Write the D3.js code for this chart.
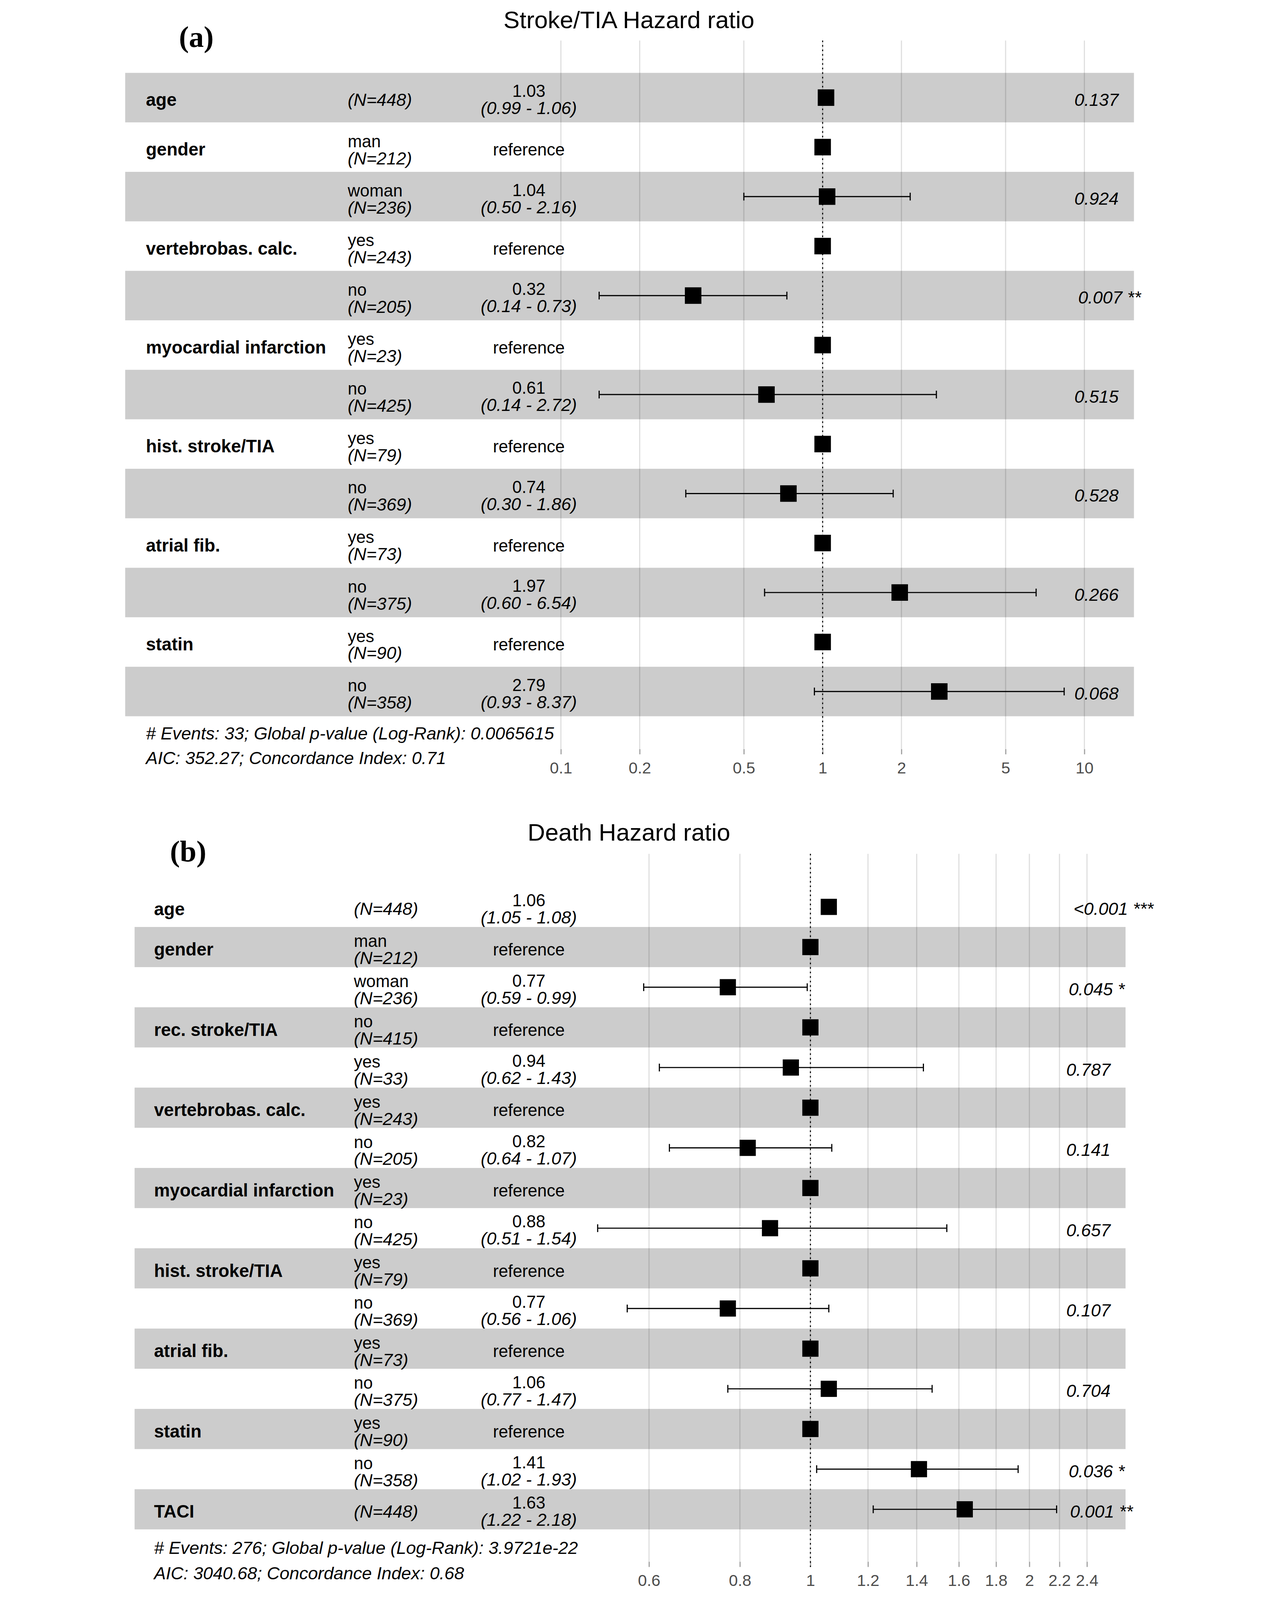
<!DOCTYPE html>
<html>
<head>
<meta charset="utf-8">
<script src="https://cdn.jsdelivr.net/npm/d3@7"></script>
<style>
  html, body { margin: 0; padding: 0; background: #fff; overflow: hidden; }
  svg { display: block; }
  text { font-family: "Liberation Sans", Arial, sans-serif; }
  text.tag { font-family: "Liberation Serif", "Times New Roman", serif; font-weight: bold; }
</style>
</head>
<body>
<svg id="chart" viewBox="0 0 3266 4940" preserveAspectRatio="xMidYMin meet"></svg>
<script>
// ---------------- DATA: panel (a) Stroke/TIA ----------------
const strokeVar   = ["age", "gender", "", "vertebrobas. calc.", "", "myocardial infarction", "", "hist. stroke/TIA", "", "atrial fib.", "", "statin", ""];
const strokeLevel = ["", "man", "woman", "yes", "no", "yes", "no", "yes", "no", "yes", "no", "yes", "no"];
const strokeN     = [448, 212, 236, 243, 205, 23, 425, 79, 369, 73, 375, 90, 358];
const strokeHR    = [1.03, null, 1.04, null, 0.32, null, 0.61, null, 0.74, null, 1.97, null, 2.79];
const strokeLo    = [0.99, null, 0.50, null, 0.14, null, 0.14, null, 0.30, null, 0.60, null, 0.93];
const strokeHi    = [1.06, null, 2.16, null, 0.73, null, 2.72, null, 1.86, null, 6.54, null, 8.37];
const strokeP     = ["0.137", "", "0.924", "", "0.007 **", "", "0.515", "", "0.528", "", "0.266", "", "0.068"];
const strokeTicks = [0.1, 0.2, 0.5, 1, 2, 5, 10];
const strokeNotes = ["# Events: 33; Global p-value (Log-Rank): 0.0065615", "AIC: 352.27; Concordance Index: 0.71"];

// ---------------- DATA: panel (b) Death ----------------
const deathVar   = ["age", "gender", "", "rec. stroke/TIA", "", "vertebrobas. calc.", "", "myocardial infarction", "", "hist. stroke/TIA", "", "atrial fib.", "", "statin", "", "TACI"];
const deathLevel = ["", "man", "woman", "no", "yes", "yes", "no", "yes", "no", "yes", "no", "yes", "no", "yes", "no", ""];
const deathN     = [448, 212, 236, 415, 33, 243, 205, 23, 425, 79, 369, 73, 375, 90, 358, 448];
const deathHR    = [1.06, null, 0.77, null, 0.94, null, 0.82, null, 0.88, null, 0.77, null, 1.06, null, 1.41, 1.63];
const deathLo    = [1.05, null, 0.59, null, 0.62, null, 0.64, null, 0.51, null, 0.56, null, 0.77, null, 1.02, 1.22];
const deathHi    = [1.08, null, 0.99, null, 1.43, null, 1.07, null, 1.54, null, 1.06, null, 1.47, null, 1.93, 2.18];
const deathP     = ["<0.001 ***", "", "0.045 *", "", "0.787", "", "0.141", "", "0.657", "", "0.107", "", "0.704", "", "0.036 *", "0.001 **"];
const deathTicks = [0.6, 0.8, 1, 1.2, 1.4, 1.6, 1.8, 2, 2.2, 2.4];
const deathNotes = ["# Events: 276; Global p-value (Log-Rank): 3.9721e-22", "AIC: 3040.68; Concordance Index: 0.68"];

// ---------------- DRAW ----------------
const W = 3266, H = 4940;
const vw = window.innerWidth || W, vh = window.innerHeight || H;
const k = Math.min(vw / W, vh / H, 1);
const svg = d3.select("#chart").attr("width", W * k).attr("height", H * k)
  .style("margin", "0 auto");
svg.append("rect").attr("width", W).attr("height", H).attr("fill", "#fff");

const FS = 52.5, FSI = 54.5, FSB = 55;

function drawPanel(cfg) {
  const g = svg.append("g");
  const n = cfg.vars.length;
  const x = d3.scaleLog().domain(cfg.domain).range(cfg.range);
  const y = d3.scaleBand().domain(d3.range(n)).range([cfg.top, cfg.top + n * cfg.rowH]).padding(0);
  const cy = i => y(i) + y.bandwidth() / 2;

  g.append("text").attr("class", "tag").attr("x", cfg.tagX).attr("y", cfg.tagY)
    .attr("font-size", 92).text(cfg.tag);
  g.append("text").attr("x", 1605).attr("y", cfg.titleY).attr("text-anchor", "middle")
    .attr("font-size", 74.5).attr("fill", "#000").text(cfg.title);

  g.selectAll("rect.band").data(d3.range(n).filter(i => i % 2 === cfg.bandParity))
    .join("rect").attr("class", "band")
    .attr("x", cfg.bandX0).attr("width", cfg.bandX1 - cfg.bandX0)
    .attr("y", i => y(i)).attr("height", y.bandwidth())
    .attr("fill", "#cccccc");

  g.selectAll("line.grid").data(cfg.ticks).join("line")
    .attr("class", "grid")
    .attr("x1", d => x(d)).attr("x2", d => x(d))
    .attr("y1", cfg.gridTop).attr("y2", cfg.axisY)
    .attr("stroke", "rgba(0,0,0,0.13)").attr("stroke-width", 3.5);

  const axis = d3.axisBottom(x).tickValues(cfg.ticks).tickFormat(d3.format("~g"))
    .tickSize(16).tickPadding(23);
  const ax = g.append("g").attr("transform", `translate(0,${cfg.axisY})`).call(axis);
  ax.select(".domain").remove();
  ax.selectAll(".tick line").attr("stroke", "#a0a0a0").attr("stroke-width", 3.5);
  ax.selectAll(".tick text").attr("fill", "#4d4d4d").attr("font-size", 50);

  g.append("line")
    .attr("x1", x(1)).attr("x2", x(1)).attr("y1", cfg.gridTop).attr("y2", cfg.axisY + 16)
    .attr("stroke", "#000").attr("stroke-width", 3.2).attr("stroke-dasharray", "5,9");

  const ci = d3.range(n).filter(i => cfg.hr[i] !== null);
  ci.forEach(i => {
    const yc = cy(i), x0 = x(cfg.lo[i]), x1 = x(cfg.hi[i]);
    g.append("line").attr("x1", x0).attr("x2", x1).attr("y1", yc).attr("y2", yc)
      .attr("stroke", "#000").attr("stroke-width", 3.5);
    [x0, x1].forEach(xx => g.append("line").attr("x1", xx).attr("x2", xx)
      .attr("y1", yc - 12).attr("y2", yc + 12).attr("stroke", "#000").attr("stroke-width", 3.5));
  });

  const S = cfg.sq;
  g.selectAll("rect.pt").data(d3.range(n)).join("rect").attr("class", "pt")
    .attr("x", i => x(cfg.hr[i] === null ? 1 : cfg.hr[i]) - S / 2)
    .attr("y", i => cy(i) - S / 2)
    .attr("width", S).attr("height", S).attr("fill", "#000");

  d3.range(n).forEach(i => {
    const c = cy(i);
    if (cfg.vars[i]) g.append("text").attr("x", cfg.varX).attr("y", c + 26)
      .attr("font-size", FSB).attr("font-weight", "bold").text(cfg.vars[i]);
    if (cfg.levels[i]) {
      g.append("text").attr("x", cfg.levX).attr("y", c).attr("font-size", FS).text(cfg.levels[i]);
      g.append("text").attr("x", cfg.levX).attr("y", c + 53).attr("font-size", FSI)
        .attr("font-style", "italic").text(`(N=${cfg.N[i]})`);
    } else {
      g.append("text").attr("x", cfg.levX).attr("y", c + 25).attr("font-size", FSI)
        .attr("font-style", "italic").text(`(N=${cfg.N[i]})`);
    }
    if (cfg.hr[i] === null) {
      g.append("text").attr("x", cfg.hrX).attr("y", c + 26).attr("text-anchor", "middle")
        .attr("font-size", FS).text("reference");
    } else {
      g.append("text").attr("x", cfg.hrX).attr("y", c - 2).attr("text-anchor", "middle")
        .attr("font-size", FS).text(cfg.hr[i].toFixed(2));
      g.append("text").attr("x", cfg.hrX).attr("y", c + 51).attr("text-anchor", "middle")
        .attr("font-size", FSI).attr("font-style", "italic")
        .text(`(${cfg.lo[i].toFixed(2)} - ${cfg.hi[i].toFixed(2)})`);
    }
    if (cfg.p[i]) {
      const t = g.append("text").attr("x", cfg.pX).attr("y", c + 25).attr("font-size", FSI)
        .attr("font-style", "italic").text(cfg.p[i]);
      const w = t.node().getComputedTextLength();
      t.attr("x", cfg.pX + 0.2 * w);
    }
  });

  cfg.notes.forEach((s, j) => g.append("text").attr("x", cfg.varX).attr("y", cfg.noteY[j])
    .attr("font-size", FSI).attr("font-style", "italic").text(s));
}

drawPanel({
  tag: "(a)", tagX: 216, tagY: 145,
  title: "Stroke/TIA Hazard ratio", titleY: 87,
  vars: strokeVar, levels: strokeLevel, N: strokeN, hr: strokeHR, lo: strokeLo, hi: strokeHi, p: strokeP,
  ticks: strokeTicks, notes: strokeNotes,
  domain: [0.1, 10], range: [1395, 3011],
  top: 225, rowH: 152.8, bandParity: 0, bandX0: 50, bandX1: 3164,
  gridTop: 125, axisY: 2313, sq: 51,
  varX: 114, levX: 737, hrX: 1296, pX: 2953,
  noteY: [2283, 2359]
});

drawPanel({
  tag: "(b)", tagX: 188, tagY: 2659,
  title: "Death Hazard ratio", titleY: 2595,
  vars: deathVar, levels: deathLevel, N: deathN, hr: deathHR, lo: deathLo, hi: deathHi, p: deathP,
  ticks: deathTicks, notes: deathNotes,
  domain: [0.6, 2.4], range: [1667, 3019],
  top: 2738, rowH: 124, bandParity: 1, bandX0: 79, bandX1: 3138,
  gridTop: 2636, axisY: 4822, sq: 50,
  varX: 139, levX: 756, hrX: 1296, pX: 2928,
  noteY: [4798, 4876]
});
</script>
</body>
</html>
